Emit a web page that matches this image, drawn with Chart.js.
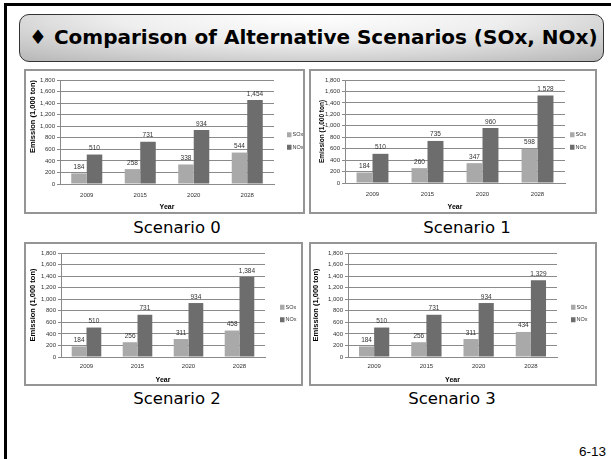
<!DOCTYPE html>
<html>
<head>
<meta charset="utf-8">
<script src="https://cdn.jsdelivr.net/npm/chart.js@4.4.0/dist/chart.umd.min.js"></script>
<style>
  body { margin: 0; width: 611px; height: 459px; background: #fff; position: relative; overflow: hidden; font-family: "Liberation Sans", Arial, sans-serif; }
  .frame { position: absolute; left: 4px; top: 3px; width: 700px; height: 600px; border-left: 3px solid #000; border-top: 3px solid #000; }
  .title { position: absolute; left: 19px; top: 14px; width: 585px; height: 48px; box-sizing: border-box; border: 1.5px solid #333; border-radius: 10px;
           background: radial-gradient(ellipse 75% 130% at 50% 0%, #ffffff 0%, #eeeeee 45%, #b8b8b8 100%); }
  .title span { position: absolute; left: 9px; top: 10px; font: bold 20px "DejaVu Sans", sans-serif; color: #000; white-space: nowrap; }
  .box { position: absolute; box-sizing: border-box; border: 2px solid #959595; background: #fff; }
  .box canvas { display: block; }
  .cap { position: absolute; width: 200px; text-align: center; font: 16.5px "DejaVu Sans", sans-serif; color: #000; }
  .page { position: absolute; right: 5px; top: 444px; font: 400 13.5px "Liberation Sans", Arial, sans-serif; color: #000; }
</style>
</head>
<body>
<div class="frame"></div>
<div class="title"><span>♦ Comparison of Alternative Scenarios (SOx, NOx)</span></div>

<div class="box" style="left:24px;top:69px;width:281px;height:145px;"><canvas id="c0" width="277" height="141"></canvas></div>
<div class="box" style="left:309px;top:69px;width:288px;height:145px;"><canvas id="c1" width="284" height="141"></canvas></div>
<div class="box" style="left:24px;top:242px;width:279px;height:144px;"><canvas id="c2" width="275" height="140"></canvas></div>
<div class="box" style="left:309px;top:242px;width:288px;height:144px;"><canvas id="c3" width="284" height="140"></canvas></div>

<div class="cap" style="left:77px;top:218px;">Scenario 0</div>
<div class="cap" style="left:367px;top:218px;">Scenario 1</div>
<div class="cap" style="left:77px;top:389px;">Scenario 2</div>
<div class="cap" style="left:352px;top:389px;">Scenario 3</div>
<div class="page">6-13</div>

<script>
// data
const years = ["2009", "2015", "2020", "2028"];
const sox0 = [184, 258, 338, 544];
const nox0 = [510, 731, 934, 1454];
const sox1 = [184, 260, 347, 598];
const nox1 = [510, 735, 960, 1528];
const sox2 = [184, 256, 311, 458];
const nox2 = [510, 731, 934, 1384];
const sox3 = [184, 256, 311, 434];
const nox3 = [510, 731, 934, 1329];
const yMax = 1800;
const yStep = 200;

const soxColor = "#a9a9a9";
const noxColor = "#6d6d6d";
const gridColor = "#8a8a8a";
const fam = '"Liberation Sans", Arial, sans-serif';

//numbers above each bar
const valueLabels = {
  id: "valueLabels",
  afterDatasetsDraw(chart) {
    let ctx = chart.ctx;
    ctx.save();
    ctx.font = "6.5px " + fam;
    ctx.fillStyle = "#333";
    ctx.textAlign = "center";
    ctx.textBaseline = "bottom";
    chart.data.datasets.forEach((ds, i) => {
      chart.getDatasetMeta(i).data.forEach((bar, j) => {
        ctx.fillText(ds.data[j].toLocaleString("en-US"), bar.x, bar.y - 3);
      });
    });
    ctx.restore();
  },
};

//small legend on the right side like excel
const sideLegend = {
  id: "sideLegend",
  afterDraw(chart, args, opts) {
    let ctx = chart.ctx;
    ctx.save();
    ctx.font = "5.5px " + fam;
    ctx.textBaseline = "middle";
    chart.data.datasets.forEach((ds, i) => {
      let y = opts.y + (i - 0.5) * 12.5;
      ctx.fillStyle = ds.backgroundColor;
      ctx.fillRect(opts.x, y - 2.5, 4.5, 5);
      ctx.fillStyle = "#333";
      ctx.fillText(ds.label, opts.x + 5.5, y);
    });
    ctx.restore();
  },
};

function makeChart(id, sox, nox, a) {
  let canvas = document.getElementById(id);
  let W = canvas.width, H = canvas.height;
  new Chart(canvas, {
    type: "bar",
    data: {
      labels: years,
      datasets: [
        { label: "SOx", data: sox, backgroundColor: soxColor },
        { label: "NOx", data: nox, backgroundColor: noxColor },
      ],
    },
    options: {
      responsive: false,
      animation: false,
      devicePixelRatio: 1,
      categoryPercentage: 0.58,
      barPercentage: 1,
      layout: { padding: { left: 0, top: a.top, right: W - a.right, bottom: 0 } },
      plugins: {
        legend: { display: false },
        tooltip: { enabled: false },
        sideLegend: { x: a.legendX, y: a.legendY },
      },
      scales: {
        x: {
          grid: { display: false, drawTicks: false },
          border: { color: gridColor },
          ticks: { font: { family: fam, size: 6 }, color: "#333", padding: a.xPad },
          title: { display: true, text: "Year", font: { family: fam, size: 7, weight: "bold" }, color: "#000", padding: { top: 0, bottom: a.yearPad } },
          afterFit: (s) => { s.height = H - a.bottom; },
        },
        y: {
          min: 0,
          max: yMax,
          grid: { color: gridColor, tickLength: 3 },
          border: { color: gridColor },
          ticks: {
            stepSize: yStep,
            font: { family: fam, size: 6 },
            color: "#333",
            padding: 2,
            callback: (v) => v.toLocaleString("en-US"),
          },
          title: {
            display: true,
            text: "Emission (1,000 ton)",
            align: a.titleAlign,
            font: { family: fam, size: a.titleSize, weight: "bold" },
            color: "#000",
            padding: { top: a.titlePad, bottom: 0 },
          },
          afterFit: (s) => { s.width = a.left; },
        },
      },
    },
    plugins: [valueLabels, sideLegend],
  });
}

makeChart("c0", sox0, nox0, { left: 34, top: 9, right: 248, bottom: 113, legendX: 261, legendY: 70, xPad: 8, yearPad: 1, titleAlign: "end", titleSize: 7.5, titlePad: 2.5 });
makeChart("c1", sox1, nox1, { left: 34, top: 9, right: 254, bottom: 112, legendX: 259, legendY: 70, xPad: 8, yearPad: 1, titleAlign: "center", titleSize: 6.5, titlePad: 7 });
makeChart("c2", sox2, nox2, { left: 35, top: 9, right: 239, bottom: 113, legendX: 254, legendY: 69.5, xPad: 6, yearPad: 0, titleAlign: "center", titleSize: 7.5, titlePad: 2 });
makeChart("c3", sox3, nox3, { left: 37, top: 9, right: 246, bottom: 113, legendX: 260, legendY: 69.5, xPad: 6, yearPad: 0, titleAlign: "center", titleSize: 7.5, titlePad: 0 });
</script>
</body>
</html>
